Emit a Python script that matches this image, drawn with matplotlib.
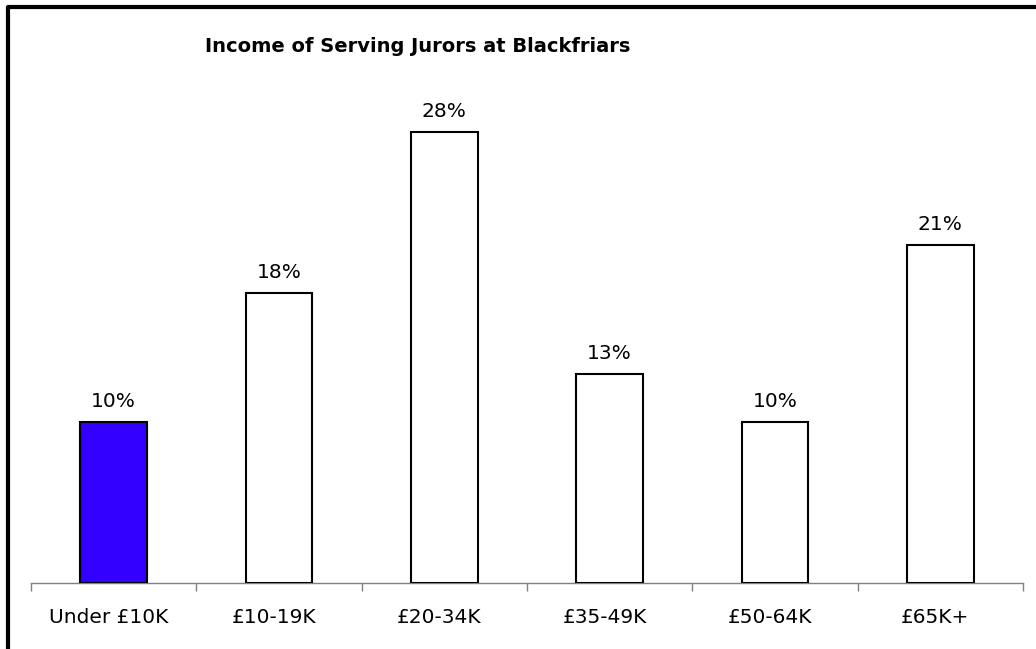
import matplotlib.pyplot as plt
from matplotlib.lines import Line2D
from matplotlib.transforms import ScaledTranslation
import numpy as np

# Data
categories = ["Under £10K", "£10-19K", "£20-34K", "£35-49K", "£50-64K", "£65K+"]
percentages = [10, 18, 28, 13, 10, 21]
bar_colors = ["#3300FF", "white", "white", "white", "white", "white"]

fig = plt.figure(figsize=(10.36, 6.49), dpi=100)
ax = fig.add_axes([31 / 1036, 66 / 649, 992 / 1036, 483 / 649])

x = np.arange(len(categories))
bars = ax.bar(x, percentages, width=0.405, color=bar_colors,
              edgecolor="black", linewidth=1.5, zorder=3)

for xi, v in zip(x, percentages):
    ax.annotate(f"{v}%", (xi, v), xytext=(0, 8), textcoords="offset points",
                ha="center", va="bottom", fontsize=14.5)

ax.set_xlim(-0.5, len(categories) - 0.5)
ax.set_ylim(0, 30)

# category labels in the middle, tick marks at the boundaries
ax.set_xticks(x)
ax.set_xticklabels(categories, fontsize=14.5)
ax.tick_params(axis="x", which="major", length=0, pad=18)
ax.set_xticks(np.arange(-0.5, len(categories)), minor=True)
ax.tick_params(axis="x", which="minor", length=6, color="#808080", width=1)
ax.set_yticks([])

# labels sit a little left of the category centre in the original
shift = ScaledTranslation(-5 / 100, 0, fig.dpi_scale_trans)
for lbl in ax.get_xticklabels():
    lbl.set_transform(lbl.get_transform() + shift)

for side in ["top", "right", "left"]:
    ax.spines[side].set_visible(False)
ax.spines["bottom"].set_color("#808080")
ax.spines["bottom"].set_linewidth(1)

fig.text(418 / 1036, 1 - 47 / 649, "Income of Serving Jurors at Blackfriars",
         ha="center", va="center", fontsize=14, fontweight="bold")

# outer frame (left and top edges)
fig.add_artist(Line2D([8 / 1036, 8 / 1036, 1.0], [0.0, 1 - 7 / 649, 1 - 7 / 649],
                      transform=fig.transFigure, color="black", linewidth=3))

fig.savefig("out.png", dpi=100, facecolor="white")
